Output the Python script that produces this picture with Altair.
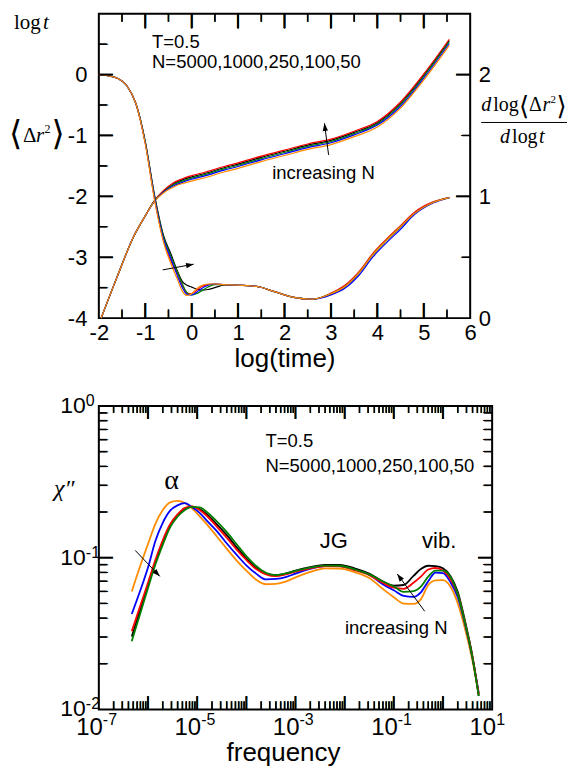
import altair as alt
import pandas as pd

SANS = "Liberation Sans"
SERIF = "Liberation Serif"

SERIES = ["5000", "1000", "250", "100", "50"]
COLORS = ["#000000", "#ff0000", "#008000", "#0000ff", "#ff8c00"]

# ---------------- top panel : log<dr^2> (left axis) ----------------
MSD_X = [-1.95, -1.6, -1.25, -1.0, -0.8, -0.6, -0.4, -0.2, 0.0, 0.3,
         0.7, 1.0, 1.5, 2.0, 2.5, 3.0, 3.5, 4.0, 4.5, 5.0, 5.55]
MSD_N5000 = [-4.00, -3.31, -2.66, -2.32, -2.07, -1.91, -1.80, -1.73, -1.68, -1.62,
             -1.53, -1.47, -1.36, -1.26, -1.16, -1.08, -0.95, -0.79, -0.47, -0.01, 0.56]
MSD_N1000 = [-4.00, -3.31, -2.66, -2.32, -2.07, -1.90, -1.78, -1.71, -1.66, -1.60,
             -1.51, -1.45, -1.34, -1.24, -1.14, -1.06, -0.93, -0.77, -0.45, 0.01, 0.58]
MSD_N250 = [-4.00, -3.31, -2.66, -2.32, -2.07, -1.92, -1.81, -1.75, -1.70, -1.64,
            -1.55, -1.49, -1.38, -1.28, -1.18, -1.10, -0.97, -0.81, -0.49, -0.03, 0.54]
MSD_N100 = [-4.00, -3.31, -2.66, -2.32, -2.08, -1.93, -1.83, -1.77, -1.72, -1.66,
            -1.57, -1.51, -1.40, -1.30, -1.20, -1.12, -0.99, -0.83, -0.52, -0.06, 0.51]
MSD_N50 = [-4.00, -3.31, -2.66, -2.32, -2.08, -1.94, -1.85, -1.79, -1.75, -1.69,
           -1.60, -1.54, -1.43, -1.33, -1.23, -1.15, -1.02, -0.86, -0.55, -0.09, 0.48]

# ---------------- top panel : d log<dr^2> / d log t (right axis) ----------------
DER_X = [-2.0, -1.8, -1.6, -1.4, -1.2, -1.0, -0.8, -0.6, -0.45, -0.3,
         -0.2, -0.1, 0.0, 0.1, 0.2, 0.35, 0.5, 0.7, 1.0, 1.4,
         1.8, 2.2, 2.6, 3.0, 3.3, 3.6, 3.9, 4.2, 4.5, 4.8, 5.2, 5.55]
DER_N5000 = [2.00, 1.99, 1.97, 1.91, 1.76, 1.45, 1.01, 0.67, 0.53, 0.38,
             0.30, 0.27, 0.255, 0.24, 0.23, 0.235, 0.25, 0.27, 0.27, 0.26,
             0.215, 0.17, 0.155, 0.20, 0.26, 0.37, 0.52, 0.64, 0.75, 0.86, 0.95, 0.99]
DER_N1000 = [2.00, 1.99, 1.97, 1.91, 1.76, 1.44, 0.98, 0.63, 0.47, 0.36,
             0.27, 0.205, 0.20, 0.225, 0.255, 0.275, 0.28, 0.275, 0.27, 0.26,
             0.215, 0.17, 0.155, 0.205, 0.27, 0.38, 0.53, 0.65, 0.76, 0.87, 0.955, 0.99]
DER_N250 = [2.00, 1.99, 1.97, 1.91, 1.76, 1.45, 1.00, 0.66, 0.51, 0.37,
            0.28, 0.21, 0.19, 0.20, 0.22, 0.255, 0.275, 0.275, 0.27, 0.26,
            0.215, 0.17, 0.155, 0.20, 0.26, 0.37, 0.52, 0.64, 0.75, 0.86, 0.95, 0.99]
DER_N100 = [2.00, 1.99, 1.97, 1.91, 1.76, 1.44, 0.99, 0.64, 0.49, 0.34,
            0.25, 0.195, 0.19, 0.21, 0.24, 0.27, 0.28, 0.275, 0.27, 0.26,
            0.215, 0.17, 0.155, 0.19, 0.245, 0.35, 0.50, 0.62, 0.73, 0.85, 0.945, 0.99]
DER_N50 = [2.00, 1.99, 1.97, 1.91, 1.76, 1.43, 0.97, 0.615, 0.45, 0.31,
           0.22, 0.186, 0.20, 0.24, 0.265, 0.28, 0.28, 0.275, 0.27, 0.26,
           0.215, 0.17, 0.155, 0.20, 0.26, 0.37, 0.52, 0.64, 0.75, 0.86, 0.95, 0.99]

# ---------------- bottom panel : log10 chi'' vs log10 frequency ----------------
LOGF = [-6.33, -6.15, -6.0, -5.85, -5.7, -5.55, -5.4, -5.25, -5.1, -4.95,
        -4.8, -4.6, -4.4, -4.2, -4.0, -3.8, -3.6, -3.4, -3.2, -3.0,
        -2.7, -2.4, -2.1, -1.8, -1.5, -1.2, -1.0, -0.8, -0.6, -0.45,
        -0.3, -0.15, 0.0, 0.15, 0.3, 0.45, 0.6, 0.727]
LOGCHI_N5000 = [-1.52, -1.335, -1.18, -1.03, -0.90, -0.79, -0.72, -0.68, -0.665, -0.68,
                -0.715, -0.78, -0.85, -0.93, -1.005, -1.068, -1.105, -1.115, -1.105, -1.085,
                -1.062, -1.048, -1.048, -1.07, -1.105, -1.16, -1.185, -1.18, -1.12, -1.075,
                -1.053, -1.055, -1.07, -1.12, -1.225, -1.42, -1.65, -1.91]
LOGCHI_N1000 = [-1.485, -1.31, -1.165, -1.015, -0.885, -0.78, -0.715, -0.672, -0.662, -0.685,
                -0.725, -0.795, -0.868, -0.945, -1.015, -1.075, -1.11, -1.122, -1.11, -1.092,
                -1.07, -1.055, -1.057, -1.082, -1.115, -1.17, -1.198, -1.205, -1.165, -1.125,
                -1.078, -1.068, -1.085, -1.14, -1.24, -1.43, -1.655, -1.90]
LOGCHI_N250 = [-1.55, -1.36, -1.20, -1.045, -0.915, -0.80, -0.73, -0.685, -0.665, -0.668,
               -0.70, -0.76, -0.83, -0.91, -0.99, -1.055, -1.10, -1.115, -1.104, -1.087,
               -1.066, -1.052, -1.053, -1.077, -1.11, -1.16, -1.19, -1.225, -1.22, -1.19,
               -1.125, -1.085, -1.085, -1.125, -1.24, -1.43, -1.66, -1.91]
LOGCHI_N100 = [-1.371, -1.21, -1.065, -0.89, -0.77, -0.69, -0.655, -0.64, -0.667, -0.705,
               -0.757, -0.825, -0.905, -0.98, -1.05, -1.105, -1.143, -1.14, -1.128, -1.105,
               -1.073, -1.056, -1.055, -1.075, -1.112, -1.18, -1.215, -1.252, -1.258, -1.228,
               -1.155, -1.098, -1.102, -1.16, -1.26, -1.44, -1.66, -1.89]
LOGCHI_N50 = [-1.222, -1.047, -0.91, -0.777, -0.686, -0.635, -0.625, -0.64, -0.677, -0.727,
              -0.78, -0.86, -0.94, -1.017, -1.085, -1.145, -1.175, -1.173, -1.158, -1.13,
              -1.094, -1.07, -1.072, -1.095, -1.134, -1.212, -1.26, -1.303, -1.305, -1.275,
              -1.18, -1.15, -1.148, -1.19, -1.30, -1.47, -1.68, -1.90]

# tick values / labels
TOP_X_LABELS = [-2, -1, 0, 1, 2, 3, 4, 5, 6]
TOP_X_MAJOR = [-1, 0, 1, 2, 3, 4, 5]
TOP_X_MINOR = [-1.5, -0.5, 0.5, 1.5, 2.5, 3.5, 4.5, 5.5]
LEFT_LABELS = [-4, -3, -2, -1, 0]
LEFT_MAJOR = [-3, -2, -1, 0]
LEFT_MINOR = [-3.5, -2.5, -1.5, -0.5, 0.5]
RIGHT_LABELS = [0, 1, 2]
RIGHT_MAJOR = [1, 2]
RIGHT_MINOR = [0.5, 1.5]
XB_LABELS = [1e-7, 1e-5, 1e-3, 1e-1, 10.0]
XB_EXP = ["-7", "-5", "-3", "-1", "1"]
YB_LABELS = [0.01, 0.1, 1.0]
YB_EXP = ["-2", "-1", "0"]
XB_MAJOR = [1e-6, 1e-5, 1e-4, 1e-3, 1e-2, 1e-1, 1.0]
XB_MINOR = [m * 10.0 ** e for e in range(-7, 1) for m in range(2, 10)]
YB_MAJOR = [0.1]
YB_MINOR = [m * 10.0 ** e for e in (-2, -1) for m in range(2, 10)]

W1, H1 = 372, 305
W2, H2 = 394, 304
TICK_W = 1.6
LINE_W1 = 1.2
LINE_W2 = 1.8


# ---------------- build tables (inward tick segments first, then curves) ----------------
def tick_rows(segs, prefix):
    rows = []
    for i, (x0, y0, x1, y1) in enumerate(segs):
        sid = "%s%d" % (prefix, i)
        rows.append({"series": "tick", "seg": sid, "x": x0, "y": y0, "sw": TICK_W})
        rows.append({"series": "tick", "seg": sid, "x": x1, "y": y1, "sw": TICK_W})
    return rows


def curve_rows(xs, table, order, width, log=False):
    rows = []
    for s in order:
        for x, y in zip(xs, table[s]):
            if log:
                x, y = 10.0 ** x, 10.0 ** y
            rows.append({"series": s, "seg": s, "x": x, "y": y, "sw": width})
    return rows


PX_X1 = 8.0 / W1      # x units per pixel (top)
PX_M1 = 5.0 / H1      # msd units per pixel
DEC_X2 = 8.0 / W2     # decades per pixel (bottom)
DEC_Y2 = 2.0 / H2

segs_m = []
for v in TOP_X_MAJOR:
    segs_m += [(v, -4, v, -4 + 15 * PX_M1), (v, 1, v, 1 - 15 * PX_M1)]
for v in TOP_X_MINOR:
    segs_m += [(v, -4, v, -4 + 8 * PX_M1), (v, 1, v, 1 - 8 * PX_M1)]
for v in LEFT_MAJOR:
    segs_m.append((-2, v, -2 + 14 * PX_X1, v))
for v in LEFT_MINOR:
    segs_m.append((-2, v, -2 + 8 * PX_X1, v))
segs_d = []
for v in RIGHT_MAJOR:
    segs_d.append((6, v, 6 - 14 * PX_X1, v))
for v in RIGHT_MINOR:
    segs_d.append((6, v, 6 - 8 * PX_X1, v))
segs_b = []
for v in XB_MAJOR:
    segs_b += [(v, 1e-2, v, 1e-2 * 10 ** (13 * DEC_Y2)), (v, 1.0, v, 10 ** (-13 * DEC_Y2))]
for v in XB_MINOR:
    segs_b += [(v, 1e-2, v, 1e-2 * 10 ** (8 * DEC_Y2)), (v, 1.0, v, 10 ** (-7 * DEC_Y2))]
for v in YB_MAJOR:
    segs_b += [(1e-7, v, 1e-7 * 10 ** (14 * DEC_X2), v), (10.0, v, 10.0 * 10 ** (-14 * DEC_X2), v)]
for v in YB_MINOR:
    segs_b += [(1e-7, v, 1e-7 * 10 ** (8 * DEC_X2), v), (10.0, v, 10.0 * 10 ** (-8 * DEC_X2), v)]

TOP_ORDER = ["5000", "1000", "250", "100", "50"]
msd_df = pd.DataFrame(tick_rows(segs_m, "m") + curve_rows(
    MSD_X, {"5000": MSD_N5000, "1000": MSD_N1000, "250": MSD_N250,
            "100": MSD_N100, "50": MSD_N50}, TOP_ORDER, LINE_W1))
der_df = pd.DataFrame(tick_rows(segs_d, "d") + curve_rows(
    DER_X, {"5000": DER_N5000, "1000": DER_N1000, "250": DER_N250,
            "100": DER_N100, "50": DER_N50}, TOP_ORDER, LINE_W1))
chi_df = pd.DataFrame(tick_rows(segs_b, "b") + curve_rows(
    LOGF, {"5000": LOGCHI_N5000, "1000": LOGCHI_N1000, "250": LOGCHI_N250,
           "100": LOGCHI_N100, "50": LOGCHI_N50},
    ["50", "100", "5000", "1000", "250"], LINE_W2, log=True))

XT = alt.Scale(domain=[-2, 6])
YM = alt.Scale(domain=[-4, 1])
YD = alt.Scale(domain=[0, 2.5])
XB = alt.Scale(type="log", domain=[1e-7, 10])
YB = alt.Scale(type="log", domain=[1e-2, 1])

color = alt.Color("series:N", scale=alt.Scale(domain=SERIES + ["tick"], range=COLORS + ["black"]),
                  legend=None)
width_enc = alt.StrokeWidth("sw:Q", scale=None, legend=None)
HEAD = "M0,0L-0.6,1.7L0.6,1.7Z"

# glyph ticks: a bold "|" whose ink spans -0.21 em .. +0.728 em about its baseline
BAR_DOWN, BAR_SPAN = 0.21, 0.938


def gtick_x(vals, xs, length, edge_y, at_bottom):
    f = length / BAR_SPAN
    y = edge_y - BAR_DOWN * f if at_bottom else edge_y + (BAR_SPAN - BAR_DOWN) * f
    return alt.Chart(pd.DataFrame({"tv": vals})).mark_text(
        text="|", font=SANS, fontWeight="bold", fontSize=f, align="center",
        baseline="alphabetic", color="black").encode(
        x=alt.X("tv:Q", scale=xs, axis=None), y=alt.value(y))


def gtick_y(vals, ys, length, edge_x, at_left):
    f = length / BAR_SPAN
    if at_left:
        x, ang = edge_x + BAR_DOWN * f, 90
    else:
        x, ang = edge_x - BAR_DOWN * f, 270
    return alt.Chart(pd.DataFrame({"tv": vals})).mark_text(
        text="|", font=SANS, fontWeight="bold", fontSize=f, align="center",
        baseline="alphabetic", angle=ang, color="black").encode(
        y=alt.Y("tv:Q", scale=ys, axis=None), x=alt.value(x))


def label_axis(orient, values, pad, **kw):
    return alt.Axis(orient=orient, values=values, ticks=False, domain=False, grid=False,
                    labelFont=SANS, labelFontSize=22, labelColor="black",
                    labelPadding=pad, labelOverlap=False, labelFlush=False,
                    labelExpr="'' + datum.value", **kw)


def dtext(txt, x, y, xs, ys, size, align="left", font=SANS, style="normal"):
    return alt.Chart(pd.DataFrame({"x": [x], "y": [y]})).mark_text(
        text=txt, font=font, fontSize=size, fontStyle=style, align=align,
        baseline="middle", color="black").encode(
        x=alt.X("x:Q", scale=xs, axis=None), y=alt.Y("y:Q", scale=ys, axis=None))


def ptext(txt, x, y, size, font=SERIF, style="normal", align="left", baseline="alphabetic"):
    return alt.Chart(pd.DataFrame({"v": [0]})).mark_text(
        text=txt, font=font, fontSize=size, fontStyle=style, align=align,
        baseline=baseline, color="black").encode(x=alt.value(x), y=alt.value(y))


def arrow(x0, y0, x1, y1, xs, ys, angle):
    shaft = alt.Chart(pd.DataFrame({"x": [x0, x1], "y": [y0, y1]})).mark_line(
        color="black", strokeWidth=1).encode(
        x=alt.X("x:Q", scale=xs, axis=None), y=alt.Y("y:Q", scale=ys, axis=None))
    head = alt.Chart(pd.DataFrame({"x": [x1], "y": [y1]})).mark_point(
        shape=HEAD, size=80, angle=angle, filled=True, color="black", opacity=1,
        strokeWidth=0).encode(
        x=alt.X("x:Q", scale=xs, axis=None), y=alt.Y("y:Q", scale=ys, axis=None))
    return [shaft, head]


# ================= TOP PANEL =================
t_msd = alt.Chart(msd_df).mark_line(interpolate="monotone").encode(
    x=alt.X("x:Q", scale=XT, axis=label_axis(
        "bottom", TOP_X_LABELS, 4, title="log(time)", titleFont=SANS, titleFontSize=26,
        titleFontWeight="normal", titleColor="black", titlePadding=2)),
    y=alt.Y("y:Q", scale=YM, axis=label_axis("left", LEFT_LABELS, 12, title=None)),
    color=color, detail="seg:N", strokeWidth=width_enc)

t_der = alt.Chart(der_df).mark_line(interpolate="monotone").encode(
    x=alt.X("x:Q", scale=XT, axis=None),
    y=alt.Y("y:Q", scale=YD, axis=label_axis("right", RIGHT_LABELS, 8, title=None)),
    color=color, detail="seg:N", strokeWidth=width_enc)

top_layers = [
    t_msd, t_der,
    gtick_x(TOP_X_MAJOR, XT, 15, H1, True), gtick_x(TOP_X_MINOR, XT, 8, H1, True),
    gtick_x(TOP_X_MAJOR, XT, 15, 0, False), gtick_x(TOP_X_MINOR, XT, 8, 0, False),
    gtick_y(LEFT_MAJOR, YM, 14, 0, True), gtick_y(LEFT_MINOR, YM, 8, 0, True),
    gtick_y(RIGHT_MAJOR, YD, 14, W1, False), gtick_y(RIGHT_MINOR, YD, 8, W1, False),
    dtext("T=0.5", -0.854, 0.54, XT, YM, 18.5),
    dtext("N=5000,1000,250,100,50", -0.854, 0.21, XT, YM, 18.5),
    dtext("increasing N", 2.84, -1.62, XT, YM, 18.5, align="center"),
]
top_layers += arrow(2.95, -1.32, 2.86, -0.80, XT, YM, 352.8)
top_layers += arrow(-0.624, 0.396, 0.043, 0.443, XT, YD, 79.6)
# left title pieces
top_layers += [
    ptext("log", -85, 15, 21),
    ptext("t", -56, 15, 21, style="italic"),
    ptext("\u27e8", -90, 122, 34, font="DejaVu Sans", baseline="middle"),
    ptext("\u0394", -76, 129, 21),
    ptext("r", -63, 129, 21, style="italic"),
    ptext("2", -54.5, 120, 12),
    ptext("\u27e9", -47.5, 122, 34, font="DejaVu Sans", baseline="middle"),
]
# right fraction title
FX = W1 + 11
top_layers += [
    ptext("d", FX, 98, 20, style="italic"),
    ptext("log", FX + 12, 98, 20),
    ptext("\u27e8", FX + 38, 94, 26, font="DejaVu Sans", baseline="middle"),
    ptext("\u0394", FX + 48, 98, 20),
    ptext("r", FX + 61.5, 98, 20, style="italic"),
    ptext("2", FX + 69.5, 89, 11),
    ptext("\u27e9", FX + 75.5, 94, 26, font="DejaVu Sans", baseline="middle"),
    alt.Chart(pd.DataFrame({"v": [0]})).mark_rule(color="black", strokeWidth=1).encode(
        x=alt.value(FX), x2=alt.value(FX + 86), y=alt.value(109)),
    ptext("d", FX + 19, 130, 20, style="italic"),
    ptext("log", FX + 31, 130, 20),
    ptext("t", FX + 58, 130, 20, style="italic"),
]

top = alt.layer(*top_layers).resolve_scale(y="independent").resolve_axis(
    x="independent", y="independent").properties(width=W1, height=H1)

# ================= BOTTOM PANEL =================
b_lines = alt.Chart(chi_df).mark_line(interpolate="monotone").encode(
    x=alt.X("x:Q", scale=XB, axis=None),
    y=alt.Y("y:Q", scale=YB, axis=None),
    color=color, detail="seg:N", strokeWidth=width_enc)

xl_df = pd.DataFrame({"v": XB_LABELS, "e": XB_EXP})
yl_df = pd.DataFrame({"v": YB_LABELS, "e": YB_EXP})
x10 = alt.Chart(xl_df).mark_text(text="10", font=SANS, fontSize=24, align="right",
                                 baseline="top", dx=4, color="black").encode(
    x=alt.X("v:Q", scale=XB, axis=None), y=alt.value(H2 + 7))
xexp = alt.Chart(xl_df).mark_text(font=SANS, fontSize=16, align="left", baseline="top",
                                  dx=4, color="black").encode(
    x=alt.X("v:Q", scale=XB, axis=None), y=alt.value(H2 + 3), text="e:N")
y10 = alt.Chart(yl_df).mark_text(text="10", font=SANS, fontSize=23, align="right",
                                 baseline="middle", color="black").encode(
    x=alt.value(-13), y=alt.Y("v:Q", scale=YB, axis=None))
yexp = alt.Chart(yl_df).mark_text(font=SANS, fontSize=16, align="left", baseline="top",
                                  dy=-13, color="black").encode(
    x=alt.value(-13), y=alt.Y("v:Q", scale=YB, axis=None), text="e:N")

bot_layers = [
    b_lines,
    gtick_x(XB_MAJOR, XB, 13, H2, True), gtick_x(XB_MINOR, XB, 8, H2, True),
    gtick_x(XB_MAJOR, XB, 13, 0, False), gtick_x(XB_MINOR, XB, 7, 0, False),
    gtick_y(YB_MAJOR, YB, 14, 0, True), gtick_y(YB_MINOR, YB, 8, 0, True),
    gtick_y(YB_MAJOR, YB, 14, W2, False), gtick_y(YB_MINOR, YB, 8, W2, False),
    x10, xexp, y10, yexp,
    dtext("T=0.5", 10 ** -3.61, 10 ** -0.23, XB, YB, 18.5),
    dtext("N=5000,1000,250,100,50", 10 ** -3.61, 10 ** -0.395, XB, YB, 18.5),
    dtext("\u03b1", 10 ** -5.52, 10 ** -0.493, XB, YB, 28, align="center", font=SERIF),
    dtext("JG", 10 ** -2.22, 10 ** -0.888, XB, YB, 22, align="center"),
    dtext("vib.", 10 ** -0.078, 10 ** -0.888, XB, YB, 22, align="center"),
    dtext("increasing N", 10 ** -0.95, 10 ** -1.464, XB, YB, 18.5, align="center"),
    ptext("\u03c7\u2033", -45, 83, 24, style="italic", baseline="middle"),
    ptext("frequency", 185, H2 + 31, 26, font=SANS, align="center", baseline="top"),
]
bot_layers += arrow(10 ** -6.26, 10 ** -0.952, 10 ** -5.76, 10 ** -1.123, XB, YB, 136.1)
bot_layers += arrow(10 ** -0.372, 10 ** -1.353, 10 ** -0.930, 10 ** -1.107, XB, YB, 323.5)

bottom = alt.layer(*bot_layers).properties(width=W2, height=H2)

chart = alt.vconcat(top, bottom, spacing=20).properties(
    padding={"left": 0, "top": 0, "right": 0, "bottom": 0}
).configure_view(stroke="black", strokeWidth=2)

chart.save("out.html", embed_options={"renderer": "svg", "actions": False})
